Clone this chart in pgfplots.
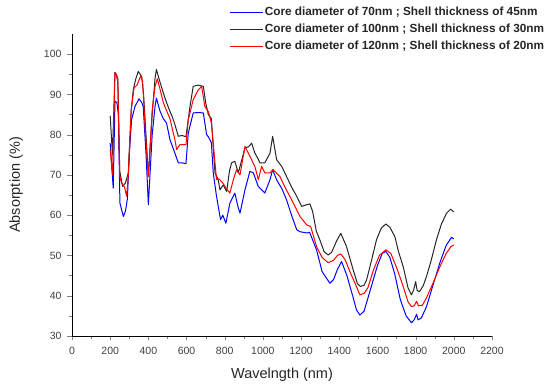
\documentclass[border=0pt]{standalone}
\usepackage{fontspec}
\setmainfont{Liberation Sans}
\usepackage{pgfplots}
\pgfplotsset{compat=1.18}
\begin{document}
\begin{tikzpicture}
\begin{axis}[
  scale only axis, width=420pt, height=302pt,
  xmin=0, xmax=2200, ymin=30, ymax=105,
  axis x line*=bottom, axis y line*=left,
  xtick={0,200,...,2200}, ytick={30,40,...,100},
  minor x tick num=1, minor y tick num=1,
  tick align=outside,
  major tick length=4.5pt, minor tick length=3pt,
  /pgf/number format/assume math mode=true,
  /pgf/number format/1000 sep={},
  tick label style={font=\fontsize{10.5}{12}\selectfont, color=black!75},
  xticklabel style={yshift=-3pt},
  yticklabel style={xshift=-2.5pt},
  xlabel={Wavelngth (nm)}, ylabel={Absorption (\%)},
  label style={font=\fontsize{14.5}{16}\selectfont, color=black!85},
  x label style={at={(axis description cs:0.5,-0.129)}, anchor=center},
  y label style={at={(axis description cs:-0.133,0.5)}, anchor=center},
  legend style={at={(axis description cs:0.374,1.095)}, anchor=north west, draw=none, fill=none,
    font=\bfseries\fontsize{11.8}{13}\selectfont, row sep=4pt, inner sep=0pt,
    nodes={inner sep=1.5pt, text=black!85}},
  legend cell align=left,
  legend image code/.code={\draw[#1] (0pt,0pt) -- (33pt,0pt);},
  every axis plot/.append style={line width=1pt},
]
\addplot[blue, line join=round] table {
200 77.9
216 66.7
225 88.3
235 88
243 85
251 63
269 59.7
280 61
290 64
300 75
312 83.7
330 87
351 88.9
365 88
373 87
388 75
400 62.6
420 80
435 87
442 89.1
460 86
478 84
495 82.9
513 78.8
539 75.4
557 73
575 73
597 72.8
609 80.4
635 85.4
660 85.5
688 85.4
705 80
714 79.5
730 78
740 70.5
757 64.7
778 58.9
790 60
806 58
827 63
853 65.5
870 62
880 60.5
906 66.3
932 70.9
950 70.5
976 67.1
990 66.5
1010 65.5
1037 68.8
1051 71.3
1072 68.8
1100 66.5
1124 63.8
1150 60
1177 56.4
1194 55.9
1229 55.6
1245 55.7
1281 51.4
1310 46
1351 43.1
1370 44
1390 46.5
1412 48.5
1440 45
1470 40
1490 36.5
1508 35.2
1530 36.2
1560 41
1600 47.5
1625 50.5
1644 51
1665 49.5
1690 45.5
1720 39
1750 35
1778 33.3
1792 34
1805 35.4
1813 34
1830 34.5
1857 37.3
1890 42.5
1927 48.2
1960 52.5
1988 54.5
2000 54.1
};
\addlegendentry{Core diameter of 70nm ; Shell thickness of 45nm}
\addplot[black!85, line join=round] table {
200 84.7
212 75
225 95.5
232 95
240 94
250 71
265 67.1
280 68
295 70.5
310 86
321 91.2
335 94
347 95.7
365 94.5
375 90
390 78
400 69.6
420 85
435 94
442 96.2
455 94
478 90.4
495 88
513 85.8
525 84.5
539 82.5
557 79.6
575 79.8
597 79.5
618 87
635 92
660 92.3
688 92
700 88
714 85
730 84
749 70.5
765 69
775 66.3
792 67.5
810 65.9
825 71
836 73
853 73.4
871 70.5
885 73
906 76.7
925 77
941 77.9
958 75.4
975 74
984 73
1010 73
1037 75.4
1051 79.6
1072 73.8
1100 72
1124 69.6
1150 67
1177 64.7
1203 62.2
1229 62.6
1246 62.8
1260 61
1280 56
1298 53.9
1320 51
1342 50.1
1360 50.8
1385 53.5
1408 55.5
1438 52.2
1473 46.4
1495 43
1511 42.3
1530 42.6
1543 43.9
1570 49
1595 53.9
1620 56.8
1644 57.8
1665 57
1691 54.7
1710 51
1735 47.2
1760 42
1778 40.2
1790 41.5
1800 43.5
1808 41.3
1820 41
1840 42.5
1857 44.8
1880 48.5
1909 53.9
1935 57.8
1962 60.5
1983 61.5
2000 60.8
};
\addlegendentry{Core diameter of 100nm ; Shell thickness of 30nm}
\addplot[red, line join=round] table {
200 76.3
212 70
225 95.3
232 94.8
240 93
250 69.6
260 68
275 67
286 64.7
295 70
310 86
325 91.6
340 92.3
361 94.7
370 93
385 80
400 69.6
420 86
435 92
447 93.9
460 91.5
478 88
495 86
513 84
530 80.5
539 78.8
548 76.3
565 77.5
597 77.5
609 83.7
635 88.7
660 91
679 92
696 87
714 85.7
730 83
757 68.8
770 69
790 68
810 66.5
827 65.5
845 68.8
862 71.3
880 70
906 77.1
932 74.6
958 72.1
976 68.8
993 72.1
1010 70.5
1037 70.5
1054 71.3
1089 69.6
1115 67
1141 64.7
1170 62
1194 59.7
1229 57.6
1250 57.2
1281 52.2
1310 49.5
1342 48.2
1370 48.8
1390 50
1408 50.4
1430 49
1460 45.5
1490 42.3
1508 40.2
1530 40.6
1550 42
1580 46.5
1610 50
1644 51.4
1670 50.5
1700 47
1730 43
1760 38.5
1778 37.3
1792 37.5
1805 38.6
1815 37.5
1835 37.6
1857 39.5
1890 43
1927 47.2
1960 50.5
1985 52.2
2000 52.6
};
\addlegendentry{Core diameter of 120nm ; Shell thickness of 20nm}
\end{axis}
\pgfresetboundingbox
\useasboundingbox (-72pt,-50pt) rectangle (478pt,336pt);
\end{tikzpicture}
\end{document}
